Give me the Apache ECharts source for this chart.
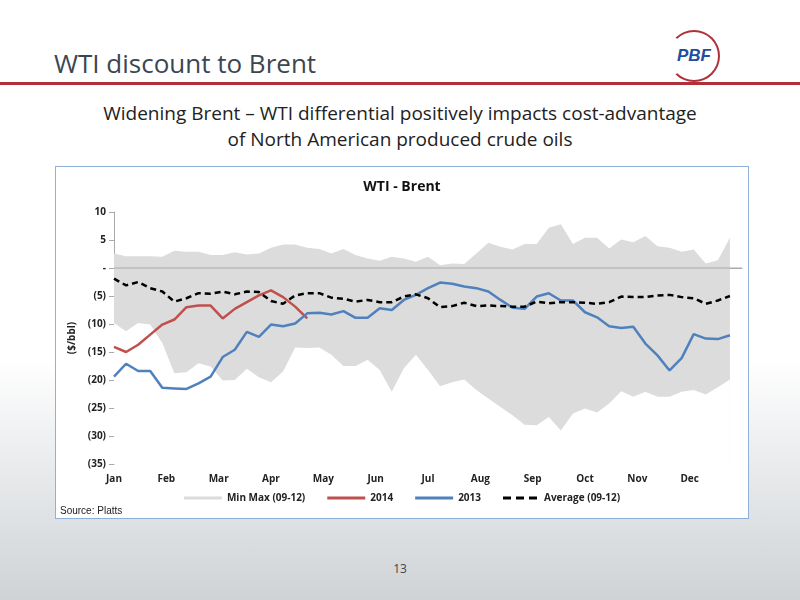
<!DOCTYPE html>
<html>
<head>
<meta charset="utf-8">
<script src="https://cdn.jsdelivr.net/npm/echarts@6/dist/echarts.min.js"></script>
<style>
  body { margin: 0; width: 800px; height: 600px; position: relative; overflow: hidden;
    font-family: "Open Sans", sans-serif;
    background: linear-gradient(to bottom, #ffffff 0%, #ffffff 60%, #e6e8ea 80%, #cfd3d6 100%); }
  #title { position: absolute; left: 54px; top: 45px; font-size: 26px; color: #3c4652; }
  #rule { position: absolute; left: 0; top: 82px; width: 800px; height: 3px; background: #b0303a; }
  #logo { position: absolute; left: 668px; top: 30px; width: 48px; height: 48px; border-radius: 50%;
    border: 2px solid #b0303a; border-left-color: #fff; background: #fff; font: italic bold 17px Arial; color: #1f4fa0;
    line-height: 48px; text-align: center; }
  #sub { position: absolute; left: 0; width: 800px; top: 100px; text-align: center; font-size: 19px; line-height: 26px; color: #222; }
  #box { position: absolute; left: 55px; top: 166px; width: 692px; height: 351px; border: 1px solid #8fb0d8; background: #fff; }
  #chart { width: 692px; height: 351px; }
  #src { position: absolute; left: 4px; bottom: 2px; font: 10px Arial; color: #222; }
  #page { position: absolute; left: 0; width: 800px; top: 560px; text-align: center; font-size: 12px; color: #444; }
</style>
</head>
<body>
<div id="title">WTI discount to Brent</div>
<div id="logo">PBF</div>
<div id="rule"></div>
<div id="sub">Widening Brent – WTI differential positively impacts cost-advantage<br>of North American produced crude oils</div>
<div id="box"><div id="chart"></div><div id="src">Source: Platts</div></div>
<div id="page">13</div>
<script>
var months = ['Jan','Feb','Mar','Apr','May','Jun','Jul','Aug','Sep','Oct','Nov','Dec'];
var weeksPerYear = 52;

var minMax0912Low = [-9.8,-11.3,-9.8,-10.1,-13.4,-18.8,-18.6,-17.0,-17.6,-20.1,-20.0,-18.0,-19.5,-20.4,-18.5,-14.2,-14.3,-14.2,-15.5,-17.5,-17.5,-16.4,-18.2,-22.1,-17.9,-15.5,-18.2,-21.1,-20.4,-19.9,-21.8,-23.3,-24.8,-26.3,-28.0,-28.1,-26.6,-29.0,-26.0,-25.1,-25.8,-24.2,-22.0,-23.0,-22.1,-23.0,-23.0,-22.1,-21.8,-22.6,-21.3,-19.9];
var minMax0912High = [2.6,2.1,2.1,2.1,2.0,3.1,2.9,2.9,2.3,2.3,2.8,2.4,2.6,3.6,4.2,4.2,3.6,3.4,2.6,3.4,2.3,1.7,1.3,2.0,1.7,1.1,2.0,0.5,0.8,0.7,2.6,4.5,3.8,3.3,4.3,4.3,7.2,7.8,4.3,5.4,5.4,3.5,5.1,4.6,5.7,3.9,3.6,2.9,3.3,0.8,1.4,5.4];
var wti2014 = [-14.1,-15.0,-13.7,-11.9,-10.1,-9.2,-7.0,-6.7,-6.7,-9.0,-7.3,-6.1,-4.9,-4.0,-5.2,-6.9,-9.0];
var wti2013 = [-19.4,-17.1,-18.4,-18.4,-21.4,-21.5,-21.6,-20.6,-19.4,-15.9,-14.6,-11.4,-12.3,-10.1,-10.4,-9.9,-8.1,-8.0,-8.3,-7.7,-8.9,-8.9,-7.2,-7.5,-5.7,-4.8,-3.6,-2.6,-2.8,-3.3,-3.6,-4.2,-5.7,-7.1,-7.3,-5.1,-4.5,-5.8,-5.8,-7.9,-8.8,-10.4,-10.7,-10.5,-13.5,-15.6,-18.3,-16.1,-11.8,-12.6,-12.7,-12.0];
var avg0912 = [-1.9,-3.1,-2.5,-3.6,-4.2,-6.0,-5.4,-4.5,-4.6,-4.2,-4.7,-4.2,-4.3,-5.9,-6.4,-4.9,-4.5,-4.5,-5.3,-5.5,-6.0,-5.7,-6.1,-6.1,-5.1,-4.7,-5.4,-7.0,-6.8,-6.2,-6.8,-6.7,-6.8,-6.9,-6.9,-6.0,-6.3,-6.1,-6.1,-6.2,-6.4,-6.1,-5.1,-5.2,-5.2,-4.9,-4.8,-5.2,-5.4,-6.4,-5.8,-5.0];

// week index -> position in months on the x axis
function pts(arr) {
  return arr.map(function (v, i) { return [i * 12 / weeksPerYear, v]; });
}

var chart = echarts.init(document.getElementById('chart'));
var lbl = { fontFamily: 'Open Sans', fontSize: 10, fontWeight: 'bold', color: '#222' };
chart.setOption({
  animation: false,
  title: { text: 'WTI - Brent', left: 'center', top: 8,
    textStyle: { fontFamily: 'Open Sans', fontSize: 14, fontWeight: 'bold', color: '#111' } },
  grid: { left: 58, right: 6, top: 45, bottom: 54 },
  legend: {
    bottom: 10, left: 'center', itemGap: 22, itemWidth: 38, itemHeight: 3,
    textStyle: { fontFamily: 'Open Sans', fontSize: 10, fontWeight: 'bold', color: '#222' },
    data: [
      { name: 'Min Max (09-12)', icon: 'rect', itemStyle: { color: '#dcdcdc' } },
      { name: '2014', icon: 'rect' },
      { name: '2013', icon: 'rect' },
      { name: 'Average (09-12)', icon: 'path://M0,0h8v3h-8z M13,0h8v3h-8z M26,0h8v3h-8z' }
    ]
  },
  xAxis: {
    type: 'value', min: 0, max: 12, interval: 1,
    axisLine: { lineStyle: { color: '#aaa' } },
    axisTick: { show: false },
    splitLine: { show: false },
    axisLabel: Object.assign({ margin: 10, formatter: function (v) { return months[v] || ''; } }, lbl)
  },
  yAxis: {
    type: 'value', min: -35, max: 10, interval: 5,
    name: '($/bbl)', nameLocation: 'middle', nameGap: 34, nameRotate: 90,
    nameTextStyle: lbl,
    axisLine: { show: true, lineStyle: { color: '#aaa' } },
    axisTick: { show: true, lineStyle: { color: '#aaa' } },
    splitLine: { show: false },
    axisLabel: Object.assign({ formatter: function (v) { return v === 0 ? '-' : (v < 0 ? '(' + (-v) + ')' : v); } }, lbl)
  },
  series: [
    // band: fill max down to axis bottom in grey, then mask below min in white
    { name: 'Min Max (09-12)', type: 'line', data: pts(minMax0912High), symbol: 'none',
      lineStyle: { opacity: 0 }, itemStyle: { color: '#dcdcdc' },
      areaStyle: { color: '#dcdcdc', opacity: 1, origin: 'start' } },
    { name: 'low', type: 'line', data: pts(minMax0912Low), symbol: 'none', silent: true,
      lineStyle: { opacity: 0 }, areaStyle: { color: '#fff', opacity: 1, origin: 'start' } },
    { type: 'line', data: [[0, 0], [12, 0]], symbol: 'none', silent: true,
      lineStyle: { color: '#aaa', width: 1 } },
    { name: '2014', type: 'line', data: pts(wti2014), symbol: 'none',
      itemStyle: { color: '#c0504d' }, lineStyle: { color: '#c0504d', width: 2.5 } },
    { name: '2013', type: 'line', data: pts(wti2013), symbol: 'none',
      itemStyle: { color: '#4f81bd' }, lineStyle: { color: '#4f81bd', width: 2.5 } },
    { name: 'Average (09-12)', type: 'line', data: pts(avg0912), symbol: 'none',
      itemStyle: { color: '#000' }, lineStyle: { color: '#000', width: 2.5, type: [6, 4] } }
  ]
});
</script>
</body>
</html>
